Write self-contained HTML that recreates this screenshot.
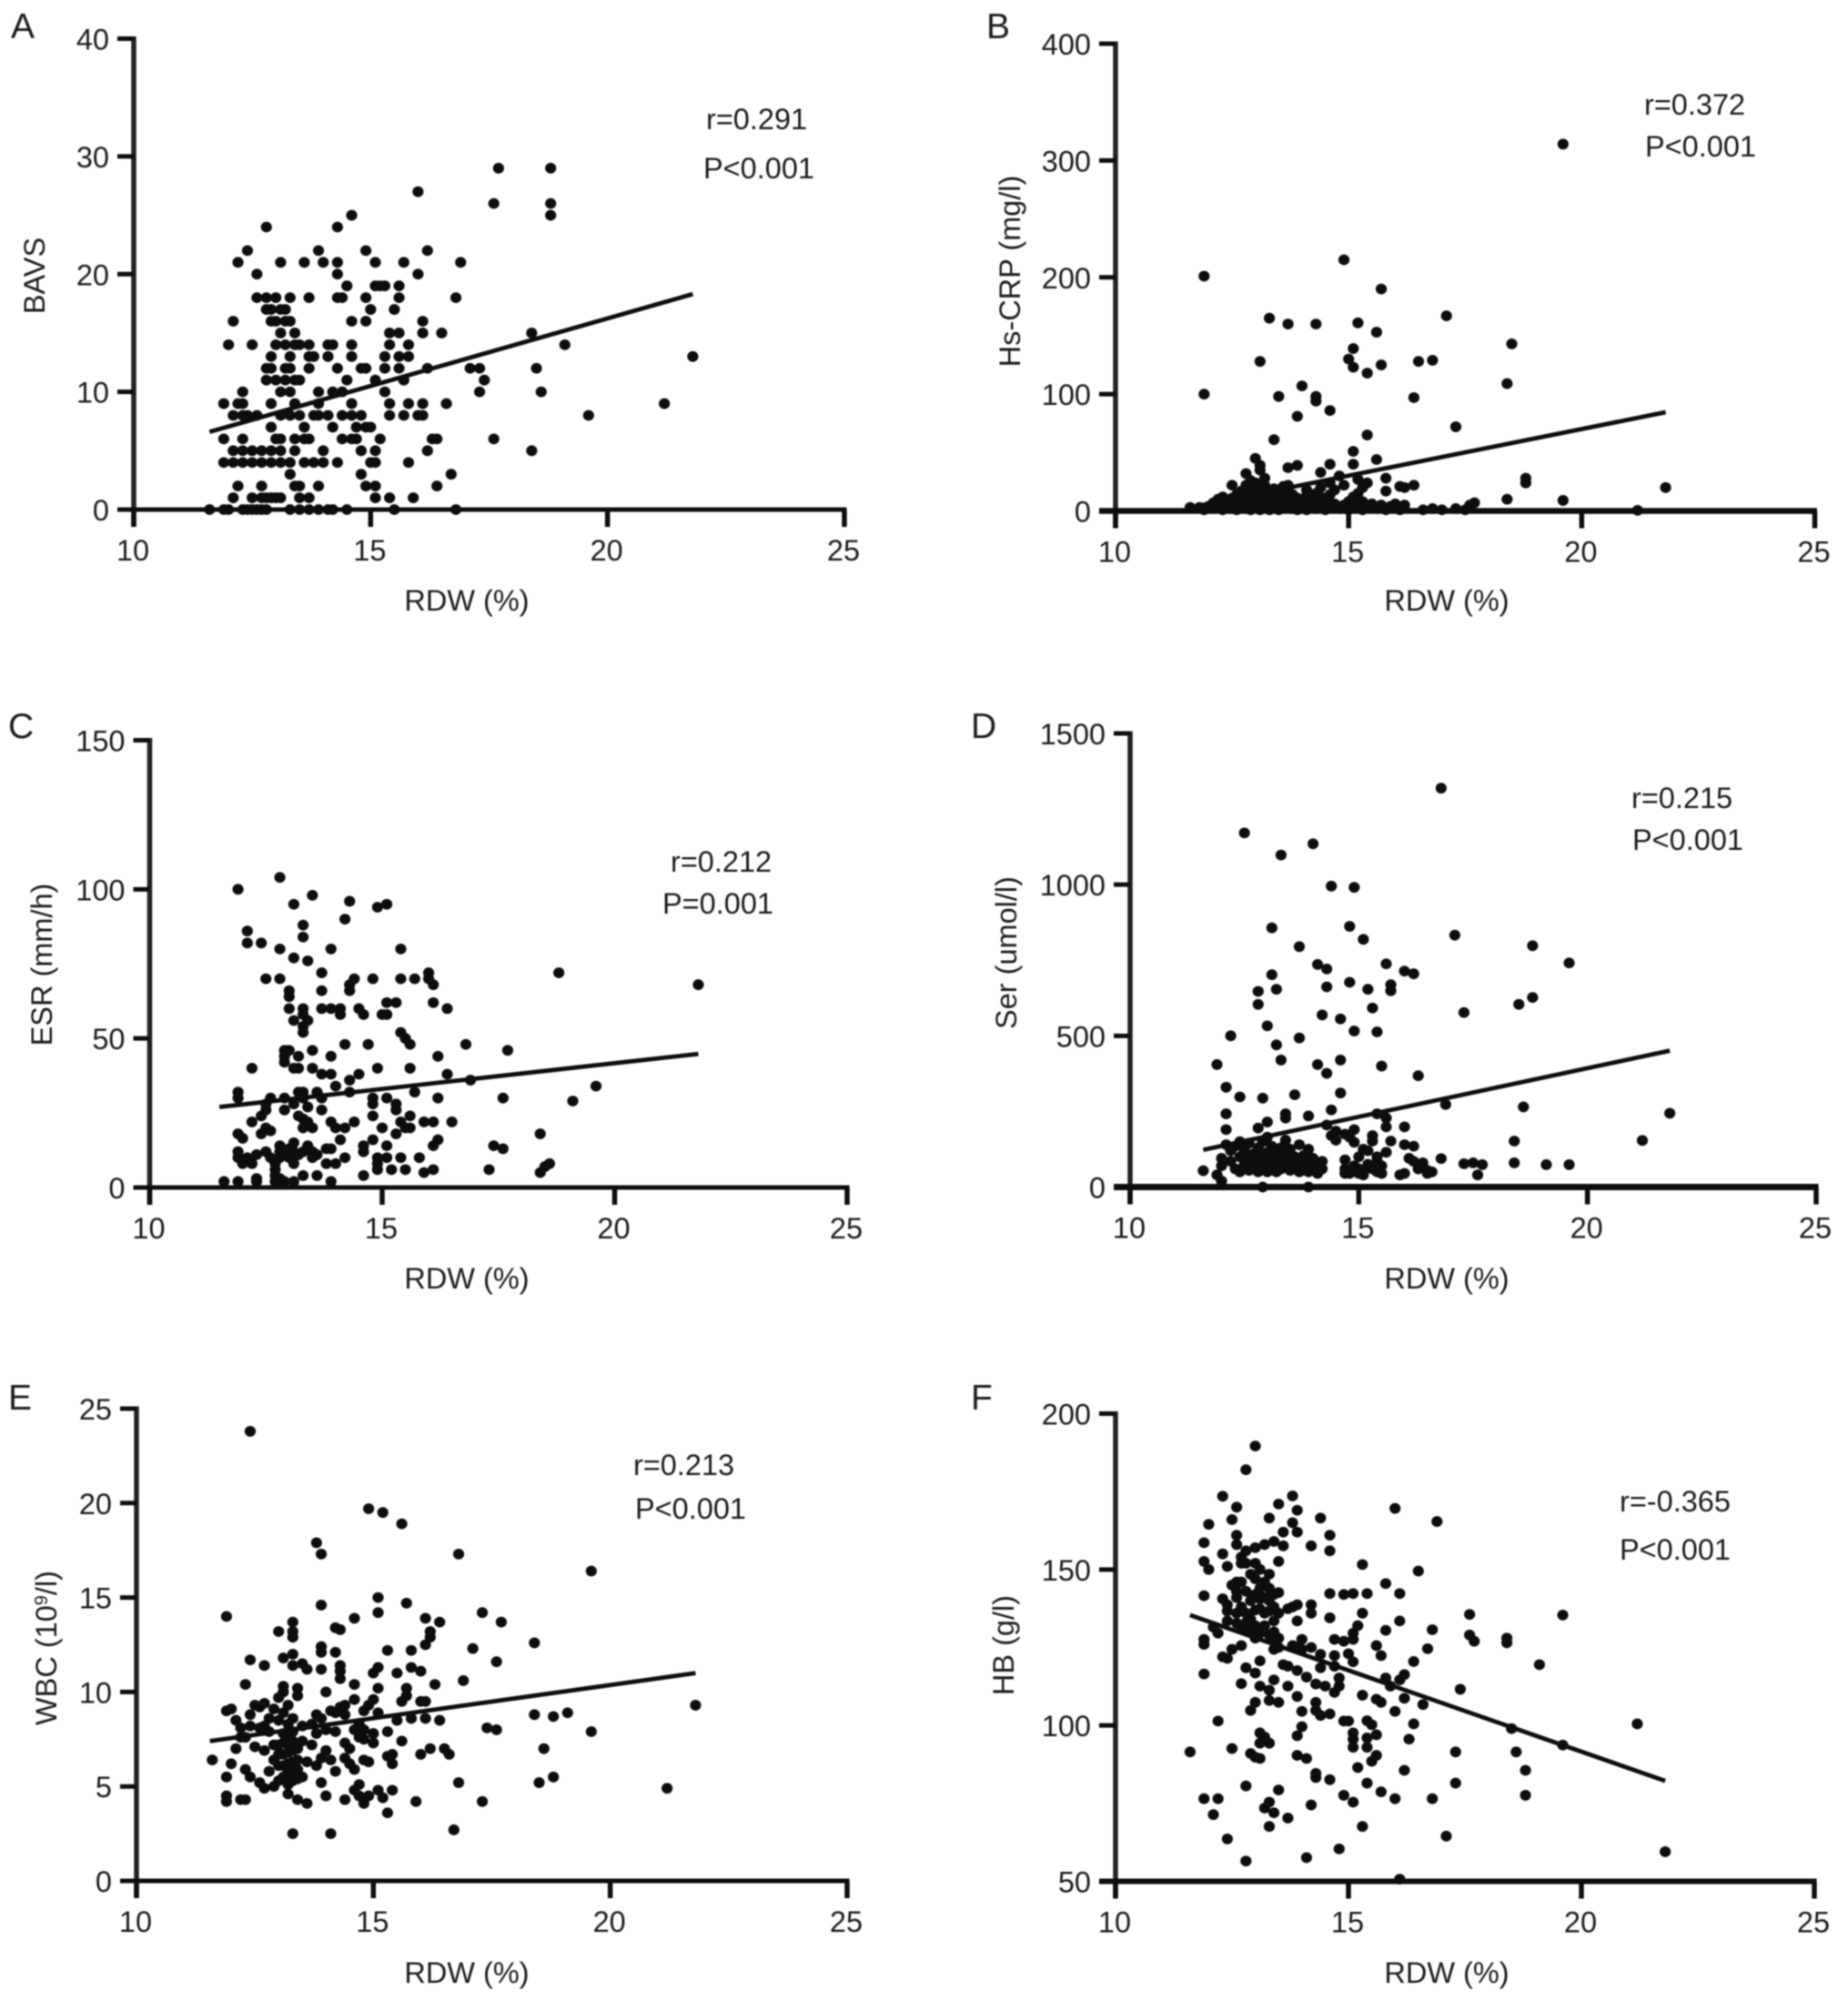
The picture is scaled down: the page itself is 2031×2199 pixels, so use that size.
<!DOCTYPE html>
<html lang="en">
<head>
<meta charset="utf-8">
<title>RDW correlation scatter plots</title>
<style>
html,body{margin:0;padding:0;background:#fff;}
svg{display:block;filter:blur(0.9px);}
text{font-family:"Liberation Sans",Arial,sans-serif;fill:#1c1c1c;font-size:32.5px;}
.big{font-size:39px;}
</style>
</head>
<body>
<svg id="figure" xmlns="http://www.w3.org/2000/svg" width="2031" height="2199" viewBox="0 0 2031 2199">
  <g id="panel-a">
    <text class="big" x="12" y="42">A</text>
    <text transform="translate(49 303) rotate(-90)" text-anchor="middle">BAVS</text>
    <text x="513" y="671" text-anchor="middle">RDW (%)</text>
    <text x="776" y="142">r=0.291</text>
    <text x="773" y="196">P&lt;0.001</text>
  </g>
  <g id="panel-b">
    <text class="big" x="1084" y="42">B</text>
    <text transform="translate(1121 298) rotate(-90)" text-anchor="middle">Hs-CRP (mg/l)</text>
    <text x="1590" y="671" text-anchor="middle">RDW (%)</text>
    <text x="1807" y="126">r=0.372</text>
    <text x="1808" y="172">P&lt;0.001</text>
  </g>
  <g id="panel-c">
    <text class="big" x="9" y="811">C</text>
    <text transform="translate(57 1060) rotate(-90)" text-anchor="middle">ESR (mm/h)</text>
    <text x="513" y="1416" text-anchor="middle">RDW (%)</text>
    <text x="737" y="958">r=0.212</text>
    <text x="728" y="1004">P=0.001</text>
  </g>
  <g id="panel-d">
    <text class="big" x="1067" y="811">D</text>
    <text transform="translate(1117 1047) rotate(-90)" text-anchor="middle">Ser (umol/l)</text>
    <text x="1590" y="1416" text-anchor="middle">RDW (%)</text>
    <text x="1793" y="888">r=0.215</text>
    <text x="1794" y="934">P&lt;0.001</text>
  </g>
  <g id="panel-e">
    <text class="big" x="9" y="1549">E</text>
    <text transform="translate(62 1811) rotate(-90)" text-anchor="middle">WBC (10<tspan dy="-10" font-size="20">9</tspan><tspan dy="10">/l)</tspan></text>
    <text x="513" y="2179" text-anchor="middle">RDW (%)</text>
    <text x="696" y="1621">r=0.213</text>
    <text x="698" y="1669">P&lt;0.001</text>
  </g>
  <g id="panel-f">
    <text class="big" x="1067" y="1549">F</text>
    <text transform="translate(1114 1808) rotate(-90)" text-anchor="middle">HB (g/l)</text>
    <text x="1590" y="2179" text-anchor="middle">RDW (%)</text>
    <text x="1780" y="1661">r=-0.365</text>
    <text x="1780" y="1714">P&lt;0.001</text>
  </g>
</svg>
<script>
const xTicks = [10, 15, 20, 25];
const yTicksA = [0, 10, 20, 30, 40];
const yTicksB = [0, 100, 200, 300, 400];
const yTicksC = [0, 50, 100, 150];
const yTicksD = [0, 500, 1000, 1500];
const yTicksE = [0, 5, 10, 15, 20, 25];
const yTicksF = [50, 100, 150, 200];

const trendA = [[11.6, 6.6], [21.8, 18.3]];
const trendB = [[11.6, 3], [21.8, 84.5]];
const trendC = [[11.5, 27], [21.8, 44.8]];
const trendD = [[11.6, 123], [21.8, 451]];
const trendE = [[11.55, 7.4], [21.8, 11]];
const trendF = [[11.6, 135.4], [21.8, 82.2]];

const pointsA = [
[17.7,29],[18.8,29],[16,27],[17.6,26],[18.8,26],[14.6,25],[18.8,25],[12.8,24],[14.3,24],
[12.4,22],[13.9,22],[14.9,22],[16.2,22],[12.2,21],[13.1,21],[13.6,21],[14,21],[14.3,21],[15.1,21],[15.7,21],[16.9,21],
[12.6,20],[14.3,20],[16,20],[14.5,19],[15.1,19],[15.2,19],[15.3,19],[15.6,19],
[12.6,18],[12.8,18],[13,18],[13.3,18],[13.7,18],[14.3,18],[14.4,18],[14.9,18],[15.6,18],[16.8,18],
[12.8,17],[12.9,17],[13.1,17],[13.2,17],[15,17],[15.5,17],[12.1,16],[12.9,16],[13,16],[13.2,16],[13.3,16],[14.6,16],[14.9,16],[16.1,16],
[13.1,15],[13.4,15],[15.4,15],[15.6,15],[16.1,15],[16.5,15],[18.4,15],
[12,14],[12.5,14],[13,14],[13.2,14],[13.4,14],[13.5,14],[13.7,14],[14.1,14],[14.2,14],[14.6,14],[15.4,14],[15.8,14],[19.1,14],
[12.9,13],[13.3,13],[13.7,13],[13.8,13],[14.1,13],[14.6,13],[15.3,13],[15.6,13],[15.8,13],[21.8,13],
[12.8,12],[12.9,12],[13.2,12],[13.3,12],[13.7,12],[14.3,12],[14.8,12],[14.9,12],[15.3,12],[15.6,12],[16.2,12],[17.1,12],[17.3,12],[18.5,12],
[12.8,11],[13,11],[13.2,11],[13.4,11],[13.5,11],[14.5,11],[15.1,11],[15.7,11],[17.4,11],
[12.3,10],[13.1,10],[13.3,10],[13.9,10],[14.2,10],[14.4,10],[15.3,10],[17.3,10],[18.6,10],
[11.9,9],[12.2,9],[12.3,9],[12.9,9],[13.4,9],[13.9,9],[14.6,9],[15.4,9],[15.8,9],[16.1,9],[16.6,9],[21.2,9],
[12.1,8],[12.3,8],[12.4,8],[12.6,8],[13.1,8],[13.3,8],[13.5,8],[13.8,8],[13.9,8],[14.1,8],[14.4,8],[14.6,8],[14.8,8],[15.4,8],[15.7,8],[16,8],[16.1,8],[19.6,8],
[12.9,7],[13.6,7],[14.2,7],[14.7,7],[14.9,7],[15,7],
[11.9,6],[12.3,6],[13,6],[13.1,6],[13.4,6],[13.6,6],[13.7,6],[14.4,6],[14.6,6],[14.7,6],[15.2,6],[16.3,6],[16.4,6],[17.6,6],
[12.1,5],[12.3,5],[12.5,5],[12.7,5],[12.9,5],[13.1,5],[13.4,5],[14,5],[14.8,5],[15.1,5],[16.2,5],[18.4,5],
[11.9,4],[12.1,4],[12.3,4],[12.5,4],[12.7,4],[12.9,4],[13.1,4],[13.3,4],[13.6,4],[13.8,4],[14,4],[14.3,4],[15,4],[15.1,4],[15.8,4],
[13.3,3],[14.8,3],[16.7,3],[12.2,2],[12.7,2],[13.4,2],[13.5,2],[13.9,2],[14.9,2],[15.1,2],[16.4,2],
[12.1,1],[12.5,1],[12.7,1],[12.8,1],[12.9,1],[13,1],[13.1,1],[13.5,1],[13.7,1],[15.1,1],[15.4,1],[15.9,1],
[11.6,0],[11.9,0],[12,0],[12.3,0],[12.4,0],[12.5,0],[12.6,0],[12.7,0],[12.8,0],[13.3,0],[13.5,0],[13.7,0],[13.9,0],[14.1,0],[14.2,0],[14.5,0],[15.5,0],[16.8,0]
];

const pointsB = [
[19.6,314],[14.9,215],[11.9,201],[15.7,190],[17.1,167],[13.3,165],[13.7,160],[14.3,160],[15.2,161],[15.6,153],[18.5,143],[15.1,139],
[15,130],[15.1,123],[15.4,118],[15.7,125],[16.5,128],[16.8,129],[13.1,128],[18.4,109],[14,107],[11.9,100],[13.5,98],[14.3,98],[14.3,94],[16.4,97],[14.6,86],[13.9,81],[17.3,72],[15.4,65],[13.4,61],[15.1,51],[15.6,44],[13,45],[14.6,40],[15.1,40],[13.9,39],[13.7,37],[13.1,39],[12.8,32],[14.4,33],[14.8,30],[15.8,28],[18.8,28],[18.8,24],[21.8,20],[12.5,22],[15.2,27],[15.4,24],[16.1,21],[16.4,22],[16.2,20],[15.8,17],[18.4,10],[19.6,9],[21.2,0.5],
[11.6,3],[11.8,3],[11.9,1],[12,4],[12.1,2],[12.1,7],[12.2,10],[12.2,4],[12.3,1],[12.3,6],[12.3,12],[12.4,3],[12.4,8],[12.5,2],[12.5,11],[12.5,5],[12.6,7],[12.6,1],[12.6,14],[12.7,4],[12.7,10],[12.7,17],[12.8,2],[12.8,7],[12.8,13],[12.8,22],[12.9,5],[12.9,10],[12.9,1],[12.9,18],[12.9,26],[13,3],[13,8],[13,12],[13,16],[13,20],[13,24],[13.1,1],[13.1,6],[13.1,10],[13.1,14],[13.1,18],[13.1,35],[13.2,3],[13.2,8],[13.2,12],[13.2,22],[13.2,28],[13.3,1],[13.3,5],[13.3,10],[13.3,15],[13.4,3],[13.4,8],[13.4,12],[13.4,19],[13.5,1],[13.5,6],[13.5,11],[13.5,15],[13.6,3],[13.6,8],[13.7,5],[13.7,12],[13.7,18],[13.7,22],[13.8,2],[13.8,8],[13.8,14],[13.9,1],[13.9,5],[13.9,11],[14,3],[14,8],[14.1,1],[14.1,13],[14.2,5],[14.2,10],[14.3,2],[14.3,15],[14.4,6],[14.4,12],[14.5,1],[14.5,9],[14.6,3],[14.6,14],[14.7,6],[14.7,18],[14.8,2],[14.9,5],[15,1],[15,8],[15.1,3],[15.1,12],[15.2,5],[15.2,15],[15.3,1],[15.3,8],[15.4,3],[15.5,6],[15.6,2],[15.7,5],[15.8,1],[15.9,4],[16,6],[16.1,1],[16.1,3],[16.2,5],[16.6,1],[16.8,2],[17,1],[17.3,2],[17.5,1],[17.6,3],[17.7,7],[17.6,5],
[14.4,20],[14.1,18],[14.9,22],[15.3,20],[13.6,21],[14.6,24]
];

const pointsC = [
[21.8,68],[18.8,72],[11.9,100],[12.8,104],[13.1,95],[13.5,98],[14.3,96],[14.9,94],[15.1,95],[14.2,90],[13.3,88],[13.3,84],[12.1,86],[12.1,82],[12.4,82],[12.8,80],[13.9,80],[15.4,80],[13.1,77],[13.4,76],[13.7,72],[12.5,70],[12.8,70],[14.4,70],[14.8,70],[15.4,70],[15.7,70],[16,72],[16,70],[16.1,68],[14.3,68],[14.3,66],[13.7,66],[13,66],[13,64],
[13,60],[13.3,60],[13.7,60],[13.9,60],[14.1,60],[14.1,58],[14.5,60],[14.6,58],[15,58],[15.1,58],[15.1,62],[15.3,62],[16.1,62],[16.4,60],[13.3,58],[13.4,56],[13.1,56],[13.3,54],[13.3,52],[15.4,52],[15.5,50],[14.2,48],[14.7,48],[15.6,48],[16.8,48],[13.5,46],[12.9,46],[13,46],[17.7,46],[12.9,44],[13.2,44],[13.9,44],[16.2,44],[12.9,42],[13.1,40],[13.2,40],[13.5,40],[12.2,40],[14.9,40],[15.6,40],[13.7,38],[13.9,38],[14.5,38],[16.4,38],[14.3,36],[16.9,36],[14,34],[19.6,34],[11.9,32],[13.2,32],[13.3,32],[13.6,32],[14.3,32],[15.7,32],[11.9,30],[12.6,30],[12.9,30],[13.3,30],[13.7,30],[14.8,30],[15.1,30],[16.2,30],[17.6,30],[19.1,29],
[13.1,28],[12.5,28],[14.8,28],[15.3,28],[12.9,26],[12.5,26],[13.7,26],[15.3,26],[12.4,24],[14.8,24],[15.6,24],[12.2,22],[13.4,22],[13.9,22],[14.4,22],[15.4,22],[15.9,22],[16.1,22],[16.5,22],[12.5,20],[13.3,20],[13.5,20],[14,20],[15,20],[15.5,20],[15.6,20],[12.4,18],[14.2,20],[15.3,18],[18.4,18],[11.9,18],[12,16.5],[14.1,16],[14.8,16],[16.2,16],[13.1,15],[17.4,14],[17.6,13],[12.8,14],[14.6,14],[15.1,14],[16.1,14],[11.9,12],[12.5,12],[12.8,12],[13.1,12],[13.3,12],[13.5,12],[13.8,13],[13.9,13],[14.6,12],[11.9,10],[12.1,10],[12.6,10],[13,10],[13.5,10],[14.2,10],[14.9,10],[15.1,10],[15.4,10],[15.8,10],[12,8],[12.7,8],[13.1,8],[13.8,8],[14,8],[14.9,8],[18.6,8],[18.5,7],[17.3,6],[18.4,5],[14.9,6],[15.2,6],[15.5,6],[16.1,6],[15.9,5],[14.6,4],[13.6,4],[13.3,4],[12.7,4],[12.3,3],[11.6,2],[11.9,2],[12.3,2],[12.7,2],[13.1,2],[13.9,2],[12.8,1],
[12.8,10],[12.9,12],[13,13],[13.2,11],[13.4,14],[13.6,11],[12.7,6],[12.8,3],[12.9,2],[13.4,27],[13.2,24],[13.3,23],[12.6,19],[12.3,11],[12.2,8]
];

const pointsD = [
[16.8,1319],[12.5,1171],[14,1135],[13.3,1098],[14.4,995],[14.9,991],[13.1,857],[14.8,862],[15.1,819],[17.1,833],[13.7,795],[18.8,798],[19.6,741],[14.1,736],[14.3,721],[15.6,738],[16,714],[16.2,705],[13.1,702],[14.8,677],[14.3,662],[15.2,654],[13.2,654],[12.8,647],[15.7,669],[15.7,649],[15.3,592],[12.8,604],[18.5,604],[18.8,627],[17.3,577],[14.2,569],[14.6,556],[13,533],[14.9,516],[15.4,513],[12.2,500],[13.7,493],[13.2,470],[13.3,420],[14.6,420],[11.9,405],[14.1,405],[15.5,400],[14.3,376],[16.3,368],[12.1,330],[14.6,311],[13.6,305],[12.4,298],[12.9,294],[16.9,273],[18.6,265],[14.4,255],[21.8,244],[12.1,242],[13.4,242],[13.9,235],[15.4,242],[13.4,228],[15.6,228],[13,215],[12.1,190],[12.8,195],[14.3,205],[15.6,199],[16,199],[14.5,185],[14.9,190],[21.2,154],[18.4,152],[15.3,170],[15.3,152],[14.4,170],[14.5,155],[15.7,152],[14.9,148],[16,140],[16.2,135],
[16.8,94],[18.4,80],[19.1,74],[19.6,74],[17.3,77],[17.5,80],[17.7,74],[17.6,40],[11.6,54],[11.9,40],[12,20],[12,95],[12,70],[12.1,140],[12.2,120],[12.2,85],[12.3,60],[12.3,135],[12.4,100],[12.4,50],[12.4,150],[12.5,75],[12.5,120],[12.6,55],[12.6,95],[12.6,145],[12.7,70],[12.7,110],[12.8,50],[12.8,85],[12.8,130],[12.9,65],[12.9,100],[12.9,150],[12.9,0],[13,50],[13,80],[13,115],[13,165],[13.1,60],[13.1,95],[13.1,135],[13.2,75],[13.2,110],[13.2,50],[13.3,90],[13.3,60],[13.3,130],[13.4,70],[13.4,105],[13.4,155],[13.5,55],[13.5,85],[13.5,125],[13.6,70],[13.6,100],[13.7,50],[13.7,85],[13.7,140],[13.8,65],[13.8,105],[13.9,50],[13.9,80],[13.9,125],[13.9,0],[14,60],[14,95],[14.1,45],[14.1,75],[14.2,85],[14.2,60],[14.7,60],[14.7,90],[14.8,50],[14.8,45],[14.9,70],[15,45],[15,100],[15.1,55],[15.1,125],[15.2,75],[15.4,50],[15.4,85],[15.5,45],[15.5,70],[15.6,115],[15.9,40],[16,45],[16.1,95],[16.2,85],[16.3,60],[16.4,80],[16.5,45],[16.5,55],[16.6,50],
[12.7,90],[12.8,120],[12.9,80],[13,95],[13,60],[13.1,75],[13.1,110],[13.2,90],[13.2,65],[13.3,75],[13.3,105],[13.4,85],[13.5,100],[13.6,85],[13.7,70],[14.7,175],[14.8,165],[15,60],[15.3,60],[14.7,45],[15.1,40],[15.4,100],[15.2,120]
];

const pointsE = [
[12.4,23.8],[14.9,19.7],[15.2,19.5],[15.6,18.9],[13.8,17.9],[13.9,17.3],[16.8,17.3],[19.6,16.4],[15.1,15],[15.7,14.7],[13.9,14.6],[15.1,14.2],[17.3,14.2],[11.9,14],[14.6,13.9],[16.1,13.9],[16.4,13.7],[17.7,13.7],[13.3,13.7],[13,13.2],[13.3,13.2],[13.3,12.9],[14.2,13.4],[14.3,13.3],[16.2,13.2],[16.2,12.9],[16.1,12.5],[18.4,12.6],[17.1,12.3],[13.9,12.4],[13.9,12.1],[14.2,12.1],[15.3,12.2],[15.8,12.2],[13.3,12],[13.1,11.8],[12.4,11.7],[12.7,11.4],[17.6,11.6],[13.3,11.4],[13.5,11.5],[13.6,11.2],[13.9,11.2],[14.3,11.4],[14.3,11.1],[15.1,11.3],[15,11],[15.5,11],[15.8,11.3],[16,11.1],[14.3,10.7],[16.9,10.6],[12.3,10.4],[13.1,10.3],[14.6,10.4],[16.3,10.4],[13.4,10.2],[14,10],[15.1,10.2],[15.7,10.2],[13.4,9.8],[15.7,9.8],[16,9.5],[16.1,9.5],[15.6,9.5],[15,9.6],[14.9,9.3],[14.6,9.6],[14.4,9.3],[14.2,8.9],[14.1,9],[13.8,8.8],[15.1,8.9],[15.8,8.6],[15.5,8.5],[16.1,8.6],[16.4,8.5],[18.4,8.8],[18.8,8.7],[19.1,8.9],[17.4,8.1],[17.6,8],[19.6,7.9],[21.8,9.3],[18.6,7],[15.6,7.4],[16.2,7],[16,6.7],[16.5,7],[16.6,6.7],[15.4,6.7],[15.3,6.6],[15.4,6.2],[14.8,6.4],[14.9,6.3],[14.4,6.5],[14.5,6.2],[14.6,5.9],
[18.5,5.2],[18.8,5.5],[16.8,5.2],[21.2,4.9],[17.3,4.2],[15.9,4.2],[16.7,2.7],[13.3,2.5],[14.1,2.5],[15.3,3.6],[14.4,4.3],[14.8,4.1],[14,4.5],[13.9,5.2],[15.4,4.8],[15.1,4.8],[15.2,4.4],[14.9,4.5],[14.6,4.8],[14.7,4.5],[13.6,4.1],[13.4,4.3],[13.2,4.6],[11.9,4.5],[11.9,4.2],[12.2,4.3],[12.3,4.3],[11.6,6.4],
[11.9,9],[12,9.1],[12.1,8.5],[12.2,8.1],[12.1,7],[12,6.2],[11.9,5.5],[12.3,5.9],[12.4,5.5],[12.3,7.6],[12.4,8.8],[12.5,9.3],[12.5,7.1],[12.6,5.2],[12.6,8.1],[12.7,4.9],[12.7,9.4],[12.7,6.9],[12.8,7.9],[12.8,5.8],[12.9,9.1],[12.9,6.4],[12.9,5],[13,8.5],[13,7.2],[13,6.1],[13,9.7],[13.1,5.5],[13.1,6.7],[13.1,7.8],[13.1,8.9],[13.1,10],[13.2,5.1],[13.2,6.2],[13.2,7.3],[13.2,8.3],[13.2,9.3],[13.3,5.8],[13.3,6.9],[13.3,7.9],[13.3,8.6],[13.4,5.4],[13.4,6.4],[13.5,7.4],[13.5,8.2],[13.5,5.5],[13.6,6.3],[13.7,7.2],[13.7,8.3],[13.8,6.1],[13.8,7.8],[13.9,6.5],[13.9,8.6],[14,6.9],[14,8],[14.1,6.4],[14.2,7.9],[14.2,5.8],[14.4,7.3],[14.6,8],[14.7,8.3],[14.8,7.5],[14.8,8],[15,7.3],[15.3,7.9],
[12.9,7.2],[13,5.3],[13,6.7],[13.1,6.1],[13.1,7.3],[13.2,5.7],[13.2,6.8],[13.2,7.8],[13.3,5.3],[13.3,6.3],[13.3,7.4],[13.4,5.9],[13.4,7],[12.8,8.6],[12.7,8.2],[12.6,9.2],[12.4,8.2],[12.2,7.6],[14.5,7],[14.7,7.6],[15,7.8],[14.4,8.8],[14.3,9.2],[14.8,9],[14.7,5.1]
];

const pointsF = [
[13,189.6],[12.8,182],[12.3,173.5],[13.8,173.6],[12.6,170],[13.5,171],[13.9,169],[16,169.6],[12.5,166],[13.3,166.5],[14.4,166.5],[16.9,165.4],[12,164.5],[13.8,165],[13.9,162],[13.6,162],[14.6,161],[12.6,161],[11.9,158.6],[13.6,157.6],[14.2,157.6],[14.6,156],[12.3,155],[13.4,159],[13.2,158],[13,157],[12.8,156],[12.6,158],[12.7,154],[11.9,152.6],[13.5,152.6],[15.3,151.6],[12,150],[12.4,151],[16.5,149.5],[12.7,152],[12.8,152],[13,152],[13.1,150],[13.3,148.5],[12.9,148.5],[13,147],[12.5,145],[12.6,143],[15.8,145.5],[13.5,142.6],[14.6,142.3],[14.9,142],[15.1,142.3],[15.4,142.3],[16.1,142.3],[11.9,141.6],[12.3,140.6],[12.6,141],[13,142],[13.1,140.6],[13.3,140],[12.4,138.7],[13.8,138],[13.9,138.7],[14.2,138.7],[13.7,137.4],[12.4,136.7],[12.7,138],[12.8,136],[13.1,137.4],[13.3,136.7],[15.3,136],[17.6,135.6],[19.6,135.4],[14.6,134.5],[16.1,133.5],[13.9,133.5],[14.2,136],[15.2,132],[12.4,133.5],[12.6,132.8],[12.9,134],[13,132],[13.2,132],[13.4,133.5],[12.1,131.5],[12.2,129.6],[15.8,130.5],[16.8,130.7],[15.1,129.6],[12.7,131],[13.1,129.6],[13.3,129],[13.4,127],[11.9,127.6],[11.9,126],[17.6,129],[17.7,127],[18.4,128],[18.4,126.5],[14,127.6],[14.7,127.6],[14.9,127],[15.1,127.6],[13.8,125.6],[13.9,125],[12.7,125.6],[12.5,124.4],[15.6,125.6],[15.7,122.4],[16.7,124.6],[13.4,124.4],[12.3,122],[12.4,121.5],[14,124.4],[14.2,125],[14.4,122.8],[14.7,122.4],[15,123],[16.4,120.5],[19.1,119.5],[13.6,119.5],[14.7,119],[15.1,120.4],[12.8,118.5],[13,116.8],[13.1,120.7],[14.4,118.5],[13.9,117.6],[13.7,119],[11.9,116.5],[14.1,115.5],[14.8,115.2],[15.8,115.2],[16.2,116.3],[16.1,114.6],[12.7,113.4],[13.7,112.6],[14.3,113.3],[13.4,114.6],[13.1,112.6],[13.3,111.3],[14.5,112.6],[14.7,110.6],[14.8,112.6],[15.9,112.6],[17.4,111.6],[13.3,108],[13,107.4],[12.9,104.8],[13.9,109.3],[14.3,107.4],[15.3,109.7],[15.6,108.4],[15.7,107.4],[16.2,108.7],[16.6,106.7],[13.5,107.4],[14,104.5],[14.3,104.8],[14.4,103.2],[14.6,103.7],[16,104.5],[12.2,101.4],[14.9,101.4],[15,101.4],[15.4,101.5],[15.5,100.2],[16.4,100.5],[21.2,100.5],[14,99.6],[13.9,96.7],[15.1,97.6],[15.1,95.6],[15.1,93],[15.6,97],[15.4,96],[15.4,93],[16.3,95.6],[18.5,99],[12.5,92.6],[13.1,97.6],[13.2,96.3],[13.3,94.3],[13.1,94.3],[11.6,91.5],[12.9,91],[13,89.8],[13.1,89.4],[13.9,90.4],[14.1,89.4],[15.6,90.4],[15.5,88.5],[17.3,91.5],[18.6,91.5],[19.6,93.7],[15.2,86.5],[16.2,85.6],[18.8,85.6],[14.3,84.6],[14.3,83.3],[14.6,82.6],[15.4,81.5],[17.3,81.5],[12.8,80.6],[13.5,79.3],[14.9,77.6],[15.7,78.7],[11.9,76.5],[12.2,76.5],[16,76.5],[16.8,76.5],[18.8,77.6],[15.1,75.4],[14.2,74.5],[13.3,75.4],[13.2,73.5],[13.4,72],[12.1,71.4],[13.7,70.3],[13.3,67.6],[15.3,67.6],[12.4,63.6],[17.1,64.5],[14.8,60.4],[21.8,59.5],[12.8,56.5],[14.1,57.6],[16.1,50.7],
[12.7,146],[12.8,143],[12.9,140],[13,137],[13.1,144],[13.2,146],[13.2,141],[13.2,136],[13.3,144],[13.4,142],[13.4,138],[13.4,130],[13.5,136],[13.5,128],[13.5,125],[12.8,133],[12.9,130],[13,128],[12.6,136],[12.6,146]
];

const panels = [
  {id:'a', points:pointsA, trend:trendA, yTicks:yTicksA, left:147, right:928, bottom:560, top:42.5, axisWidth:5},
  {id:'b', points:pointsB, trend:trendB, yTicks:yTicksB, left:1226, right:1994.5, bottom:561.5, top:48, axisWidth:6.5},
  {id:'c', points:pointsC, trend:trendC, yTicks:yTicksC, left:164.5, right:931, bottom:1305, top:813.5, axisWidth:5},
  {id:'d', points:pointsD, trend:trendD, yTicks:yTicksD, left:1242, right:1996, bottom:1304.5, top:806, axisWidth:7},
  {id:'e', points:pointsE, trend:trendE, yTicks:yTicksE, left:150, right:931, bottom:2067, top:1548, axisWidth:5},
  {id:'f', points:pointsF, trend:trendF, yTicks:yTicksF, left:1226, right:1994, bottom:2067.5, top:1553.5, axisWidth:6}
];

const SVG_NS = 'http://www.w3.org/2000/svg';
const INK = '#0d0d0d';

function add(parent, tag) {
  const node = document.createElementNS(SVG_NS, tag);
  parent.appendChild(node);
  return node;
}

function drawPanel(p) {
  const group = document.getElementById('panel-' + p.id);
  const xMin = xTicks[0];
  const xMax = xTicks[xTicks.length - 1];
  const yMin = p.yTicks[0];
  const yMax = p.yTicks[p.yTicks.length - 1];
  const xScale = function (v) { return p.left + (v - xMin) * (p.right - p.left) / (xMax - xMin); };
  const yScale = function (v) { return p.bottom - (v - yMin) * (p.bottom - p.top) / (yMax - yMin); };

  p.points.forEach(function (pt) {
    const dot = add(group, 'ellipse');
    dot.setAttribute('cx', xScale(pt[0]));
    dot.setAttribute('cy', yScale(pt[1]));
    dot.setAttribute('rx', 6.1);
    dot.setAttribute('ry', 5.9);
    dot.setAttribute('fill', INK);
    
    
  });

  const yAxis = add(group, 'line');
  yAxis.setAttribute('x1', p.left);
  yAxis.setAttribute('x2', p.left);
  yAxis.setAttribute('y1', p.top - 2.5);
  yAxis.setAttribute('y2', p.bottom + 18);
  yAxis.setAttribute('stroke', '#222');
  yAxis.setAttribute('stroke-width', 5.5);
  
  

  const xAxis = add(group, 'line');
  xAxis.setAttribute('x1', p.left - 18);
  xAxis.setAttribute('x2', p.right + 2.5);
  xAxis.setAttribute('y1', p.bottom);
  xAxis.setAttribute('y2', p.bottom);
  xAxis.setAttribute('stroke', INK);
  xAxis.setAttribute('stroke-width', p.axisWidth);
  
  

  p.yTicks.forEach(function (v) {
    const tick = add(group, 'line');
    tick.setAttribute('x1', p.left - 18);
    tick.setAttribute('x2', p.left);
    tick.setAttribute('y1', yScale(v));
    tick.setAttribute('y2', yScale(v));
    tick.setAttribute('stroke', INK);
    tick.setAttribute('stroke-width', 5);
    
    

    const label = add(group, 'text');
    label.setAttribute('x', p.left - 27);
    label.setAttribute('y', yScale(v) + 12);
    label.setAttribute('text-anchor', 'end');
    
    
    label.textContent = String(v);
  });

  xTicks.forEach(function (v) {
    const tick = add(group, 'line');
    tick.setAttribute('x1', xScale(v));
    tick.setAttribute('x2', xScale(v));
    tick.setAttribute('y1', p.bottom);
    tick.setAttribute('y2', p.bottom + 19);
    tick.setAttribute('stroke', INK);
    tick.setAttribute('stroke-width', 5.5);
    
    

    const label = add(group, 'text');
    label.setAttribute('x', xScale(v) - 1);
    label.setAttribute('y', p.bottom + 56);
    label.setAttribute('text-anchor', 'middle');
    
    
    label.textContent = String(v);
  });

  const fit = add(group, 'line');
  fit.setAttribute('x1', xScale(p.trend[0][0]));
  fit.setAttribute('y1', yScale(p.trend[0][1]));
  fit.setAttribute('x2', xScale(p.trend[1][0]));
  fit.setAttribute('y2', yScale(p.trend[1][1]));
  fit.setAttribute('stroke', INK);
  fit.setAttribute('stroke-width', 4.8);
  
  
}

panels.forEach(drawPanel);
</script>
</body>
</html>
